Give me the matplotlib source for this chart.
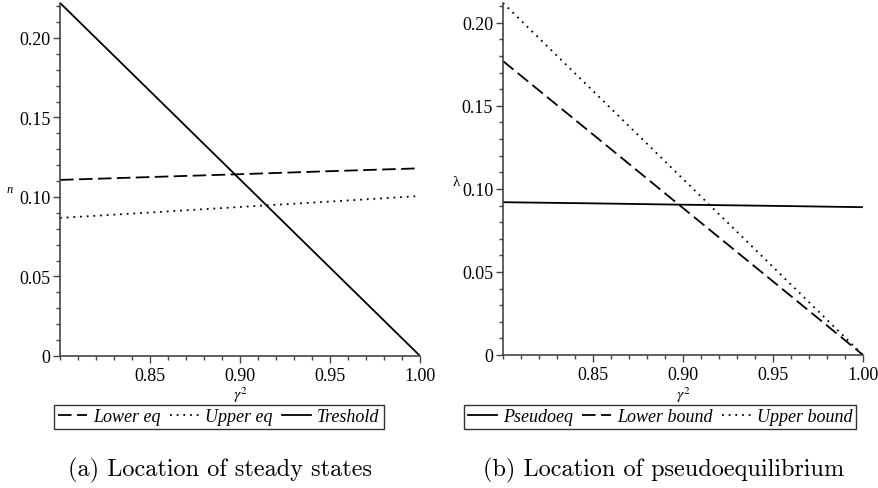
import numpy as np
import matplotlib
matplotlib.use('Agg')
import matplotlib.pyplot as plt
from matplotlib.ticker import MultipleLocator, FuncFormatter

# gamma^2 values where curves are read
gamma2 = [0.80, 0.85, 0.90, 0.95, 1.00]

# (a) steady states
lower_eq = [0.1107, 0.1125, 0.1143, 0.1162, 0.1180]
upper_eq = [0.0868, 0.0902, 0.0937, 0.0971, 0.1006]
treshold = [0.2220, 0.1665, 0.1110, 0.0555, 0.0]

# (b) pseudoequilibrium
pseudoeq = [0.0920, 0.0913, 0.0905, 0.0898, 0.0890]
lower_bound = [0.1770, 0.1328, 0.0885, 0.0443, 0.0]
upper_bound = [0.2120, 0.1590, 0.1060, 0.0530, 0.0]

xticks = [0.85, 0.90, 0.95, 1.00]
yticks = [0, 0.05, 0.10, 0.15, 0.20]

serif = 'Liberation Serif'
plt.rcParams['font.family'] = serif
plt.rcParams['mathtext.fontset'] = 'stix'
dash = (0, (7.5, 3))
dot = (0, (1, 2.7))

fig = plt.figure(figsize=(8.79, 4.89), dpi=100)

def fmt_y(v, pos):
    return '0' if abs(v) < 1e-9 else '%.2f' % v

def style_axes(ax, ytop):
    ax.set_xlim(0.8, 1.0)
    ax.set_ylim(0, ytop)
    for s in ['top', 'right']:
        ax.spines[s].set_visible(False)
    for s in ['left', 'bottom']:
        ax.spines[s].set_color('#444444')
        ax.spines[s].set_linewidth(1.2)
    ax.set_xticks(xticks)
    ax.set_xticklabels(['%.2f' % t for t in xticks])
    ax.set_yticks(yticks)
    ax.yaxis.set_major_formatter(FuncFormatter(fmt_y))
    ax.xaxis.set_minor_locator(MultipleLocator(0.01))
    ax.yaxis.set_minor_locator(MultipleLocator(0.01))
    ax.tick_params(which='major', length=5, width=1, color='#444444', labelsize=13, pad=2)
    ax.tick_params(which='minor', length=3, width=1, color='#444444')
    ax.tick_params(axis='x', which='major', pad=3)

legend_font = {'family': serif, 'style': 'italic', 'size': 13}
legend_kw = dict(loc='center', ncol=3, frameon=True, fancybox=False, edgecolor='black',
                 handlelength=1.6, handletextpad=0.35, columnspacing=0.5,
                 borderpad=0.22, borderaxespad=0, prop=legend_font)

# left panel
ax1 = fig.add_axes([0.0683, 0.270, 0.4096, 0.722])
l1, = ax1.plot(gamma2, lower_eq, color='black', lw=1.3, linestyle=dash)
l2, = ax1.plot(gamma2, upper_eq, color='black', lw=1.3, linestyle=dot)
l3, = ax1.plot(gamma2, treshold, color='black', lw=1.3)
style_axes(ax1, 0.222)
fig.text(10/879, 1-190/489, 'n', fontstyle='italic', fontsize=9, ha='center', va='center')
fig.text(240/879, 1-395/489, r'$\gamma^2$', fontsize=11.5, ha='center', va='center')
leg1 = fig.legend([l1, l2, l3], ['Lower eq', 'Upper eq', 'Treshold'],
                  bbox_to_anchor=(219/879, 1-418/489), **legend_kw)
leg1.get_frame().set_linewidth(1.0)
fig.text(220/879, 1-470/489, '(a) Location of steady states', fontfamily='cmr10', fontsize=17.5,
         ha='center', va='center')

# right panel
ax2 = fig.add_axes([0.5722, 0.272, 0.4096, 0.720])
m1, = ax2.plot(gamma2, pseudoeq, color='black', lw=1.3)
m2, = ax2.plot(gamma2, lower_bound, color='black', lw=1.3, linestyle=dash)
m3, = ax2.plot(gamma2, upper_bound, color='black', lw=1.3, linestyle=dot)
style_axes(ax2, 0.212)
fig.text(456/879, 1-182/489, 'λ', fontsize=11, ha='center', va='center')
fig.text(683/879, 1-395/489, r'$\gamma^2$', fontsize=11.5, ha='center', va='center')
leg2 = fig.legend([m1, m2, m3], ['Pseudoeq', 'Lower bound', 'Upper bound'],
                  bbox_to_anchor=(660/879, 1-418/489), **legend_kw)
leg2.get_frame().set_linewidth(1.0)
fig.text(664/879, 1-470/489, '(b) Location of pseudoequilibrium', fontfamily='cmr10', fontsize=17.5,
         ha='center', va='center')

fig.savefig('out.png', dpi=100)
